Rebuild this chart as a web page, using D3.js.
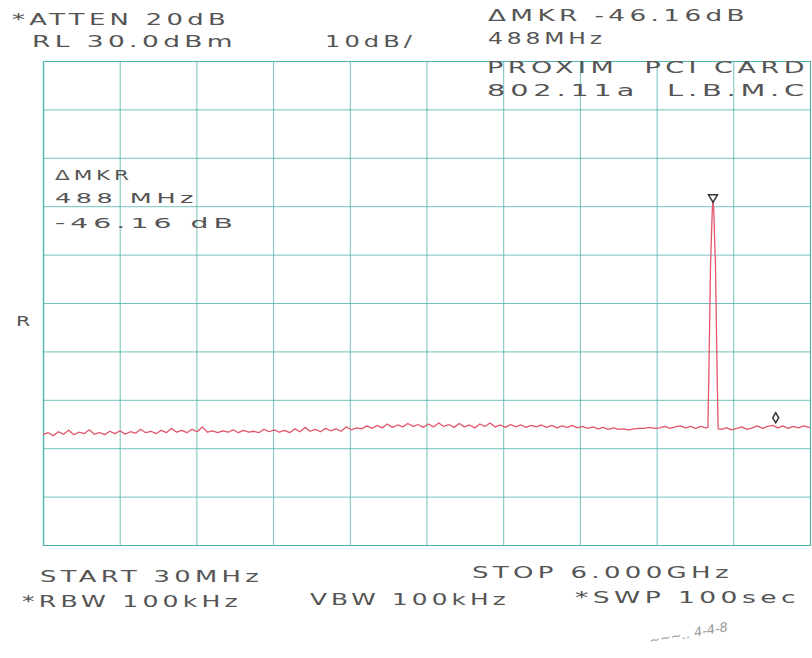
<!DOCTYPE html>
<html>
<head>
<meta charset="utf-8">
<script src="https://cdn.jsdelivr.net/npm/d3@7"></script>
<style>
  html, body { margin: 0; padding: 0; background: #ffffff; }
  svg { display: block; }
  text.lbl { font-family: "DejaVu Sans", sans-serif; fill: #555555; letter-spacing: 2.5px; white-space: pre; }
</style>
</head>
<body>
<svg id="chart" width="812" height="658"></svg>
<script>
// ---- Data ----
const startMHz = 30;
const stopMHz = 6000;
const refLevelDbm = 30;
const dbPerDiv = 10;
const divisions = 10;

const freqMHz = [
  30, 70, 110, 150, 190, 230, 270, 310, 350, 390,
  430, 470, 510, 550, 590, 630, 670, 710, 750, 790,
  830, 870, 910, 950, 990, 1030, 1070, 1110, 1150, 1190,
  1230, 1270, 1310, 1350, 1390, 1430, 1470, 1510, 1550, 1590,
  1630, 1670, 1710, 1750, 1790, 1830, 1870, 1910, 1950, 1990,
  2030, 2070, 2110, 2150, 2190, 2230, 2270, 2310, 2350, 2390,
  2430, 2470, 2510, 2550, 2590, 2630, 2670, 2710, 2750, 2790,
  2830, 2870, 2910, 2950, 2990, 3030, 3070, 3110, 3150, 3190,
  3230, 3270, 3310, 3350, 3390, 3430, 3470, 3510, 3550, 3590,
  3630, 3670, 3710, 3750, 3790, 3830, 3870, 3910, 3950, 3990,
  4030, 4070, 4110, 4150, 4190, 4230, 4270, 4310, 4350, 4390,
  4430, 4470, 4510, 4550, 4590, 4630, 4670, 4710, 4750, 4790,
  4830, 4870, 4910, 4950, 4990, 5030, 5070, 5110, 5150, 5190,
  5205, 5212, 5226, 5239, 5245, 5251, 5264, 5278, 5285,
  5310, 5350, 5390, 5430, 5470, 5510, 5550, 5590, 5630, 5670,
  5710, 5750, 5790, 5830, 5870, 5910, 5950, 5990, 6000
];

const levelDbm = [
  -47.2, -46.8, -47.4, -46.6, -47.1, -46.3, -47.2, -46.7, -47.0, -46.2,
  -47.1, -46.8, -47.2, -46.5, -47.0, -46.4, -47.1, -46.6, -46.9, -46.1,
  -46.8, -46.5, -47.0, -46.3, -46.8, -45.9, -46.7, -46.3, -46.8, -46.1,
  -46.6, -45.6, -46.7, -46.4, -46.8, -46.4, -46.7, -46.2, -46.8, -46.3,
  -46.7, -46.5, -46.8, -46.1, -46.6, -46.2, -46.7, -46.3, -46.8, -46.0,
  -46.6, -45.7, -46.5, -46.1, -46.6, -45.9, -46.4, -46.0, -46.5, -45.6,
  -46.2, -45.8, -46.0, -45.4, -45.9, -45.3, -45.8, -45.0, -45.7, -45.2,
  -45.6, -44.9, -45.5, -45.1, -45.7, -45.0, -45.6, -44.8, -45.5, -45.1,
  -45.7, -44.9, -45.6, -45.2, -45.8, -45.0, -45.5, -44.8, -45.6, -45.2,
  -45.7, -45.1, -45.6, -45.2, -45.7, -45.3, -45.6, -45.2, -45.7, -45.3,
  -45.8, -45.4, -45.7, -45.3, -45.8, -45.5, -45.9, -45.6, -46.0, -45.7,
  -46.1, -45.8, -46.1, -46.0, -46.2, -46.0, -45.9, -45.9, -45.7, -45.9,
  -45.8, -45.5, -45.9, -45.6, -45.4, -45.8, -45.5, -45.9, -45.5, -45.8,
  -45.7, -36.0, -12.0, -1.0, 1.0, -1.0, -12.0, -36.0, -46.0,
  -46.1, -45.8, -46.2, -45.9, -45.6, -46.1, -45.8, -45.4, -45.9, -45.5,
  -45.3, -45.8, -45.4, -45.9, -45.5, -45.8, -45.4, -45.7, -45.7
];

// markers: normal marker at peak, delta marker 488 MHz higher
const markerFreqMHz = [5245, 5733];
const markerLevelDbm = [1.0, -45.16];
const markerSymbols = ["triangle", "diamond"];

// annotation text
const headerLeft = ["*ATTEN 20dB", "RL 30.0dBm"];
const scaleLabel = "10dB/";
const headerRight = ["ΔMKR -46.16dB", "488MHz", "PROXIM  PCI CARD", "802.11a  L.B.M.C"];
const markerBox = ["ΔMKR", "488 MHz", "-46.16 dB"];
const footer = ["START 30MHz", "STOP 6.000GHz", "*RBW 100kHz", "VBW 100kHz", "*SWP 100sec"];
const signature = "~~~\u2025 4-4-8";

// ---- Layout ----
const svg = d3.select("#chart");
const plot = { left: 43, right: 810, top: 61, bottom: 545 };

const x = d3.scaleLinear().domain([startMHz, stopMHz]).range([plot.left, plot.right]);
const y = d3.scaleLinear()
  .domain([refLevelDbm - dbPerDiv * divisions, refLevelDbm])
  .range([plot.bottom, plot.top]);

const gridColor = "#4fb3aa";

const xGridValues = d3.range(divisions + 1).map(k => startMHz + k * (stopMHz - startMHz) / divisions);
const yGridValues = d3.range(divisions + 1).map(k => refLevelDbm - k * dbPerDiv);

svg.append("g")
  .attr("transform", `translate(0,${plot.bottom})`)
  .call(d3.axisBottom(x).tickValues(xGridValues).tickSize(-(plot.bottom - plot.top)).tickFormat(""))
  .call(g => g.select(".domain").attr("stroke", gridColor).attr("stroke-width", 1.2))
  .call(g => g.selectAll(".tick line").attr("stroke", gridColor).attr("stroke-width", 1).attr("opacity", 0.8));

svg.append("g")
  .attr("transform", `translate(${plot.left},0)`)
  .call(d3.axisLeft(y).tickValues(yGridValues).tickSize(-(plot.right - plot.left)).tickFormat(""))
  .call(g => g.select(".domain").attr("stroke", gridColor).attr("stroke-width", 1.2))
  .call(g => g.selectAll(".tick line").attr("stroke", gridColor).attr("stroke-width", 1).attr("opacity", 0.8));

// trace
const traceData = freqMHz.map((f, i) => ({ f, v: levelDbm[i] }));
const line = d3.line().x(d => x(d.f)).y(d => y(d.v));
svg.append("path")
  .datum(traceData)
  .attr("fill", "none")
  .attr("stroke", "#e2566c")
  .attr("stroke-width", 1.3)
  .attr("stroke-linejoin", "round")
  .attr("d", line);

// markers
markerFreqMHz.forEach((f, i) => {
  const isTri = markerSymbols[i] === "triangle";
  const type = isTri ? d3.symbolTriangle : d3.symbolDiamond;
  const dy = isTri ? -4 : -7;
  svg.append("path")
    .attr("d", d3.symbol().type(type).size(isTri ? 34 : 30)())
    .attr("transform", `translate(${x(f)},${y(markerLevelDbm[i]) + dy}) rotate(${isTri ? 180 : 0})`)
    .attr("fill", "none")
    .attr("stroke", "#333")
    .attr("stroke-width", 1.5);
});

// text helper: x start, x end, baseline
function label(txt, x0, x1, base, size) {
  return svg.append("text")
    .attr("class", "lbl")
    .attr("x", x0).attr("y", base)
    .attr("font-size", size)
    .attr("textLength", x1 - x0)
    .attr("lengthAdjust", "spacingAndGlyphs")
    .text(txt);
}

label(headerLeft[0], 12, 230, 25, 15);
label(headerLeft[1], 32, 237, 47, 15);
label(scaleLabel, 325, 416, 47, 15);

label(headerRight[0], 488, 749, 21, 15);
label(headerRight[1], 488, 606, 44, 15);
label(headerRight[2], 487, 809, 73, 15);
label(headerRight[3], 487, 809, 96, 15);

label(markerBox[0], 55, 133, 180, 14);
label(markerBox[1], 55, 198, 203, 14);
label(markerBox[2], 55, 238, 228, 14);

label("R", 16, 34, 326, 14);

label(footer[0], 40, 263, 582, 15);
label(footer[1], 472, 733, 578, 15);
label(footer[2], 22, 242, 607, 15);
label(footer[3], 310, 510, 605, 15);
label(footer[4], 575, 800, 603, 15);

svg.append("text")
  .attr("x", 650).attr("y", 645)
  .attr("font-size", 13)
  .attr("font-style", "italic")
  .attr("font-family", "DejaVu Sans, sans-serif")
  .attr("transform", "rotate(-10,650,645)")
  .style("fill", "#9a9a9a")
  .text(signature);
</script>
</body>
</html>
